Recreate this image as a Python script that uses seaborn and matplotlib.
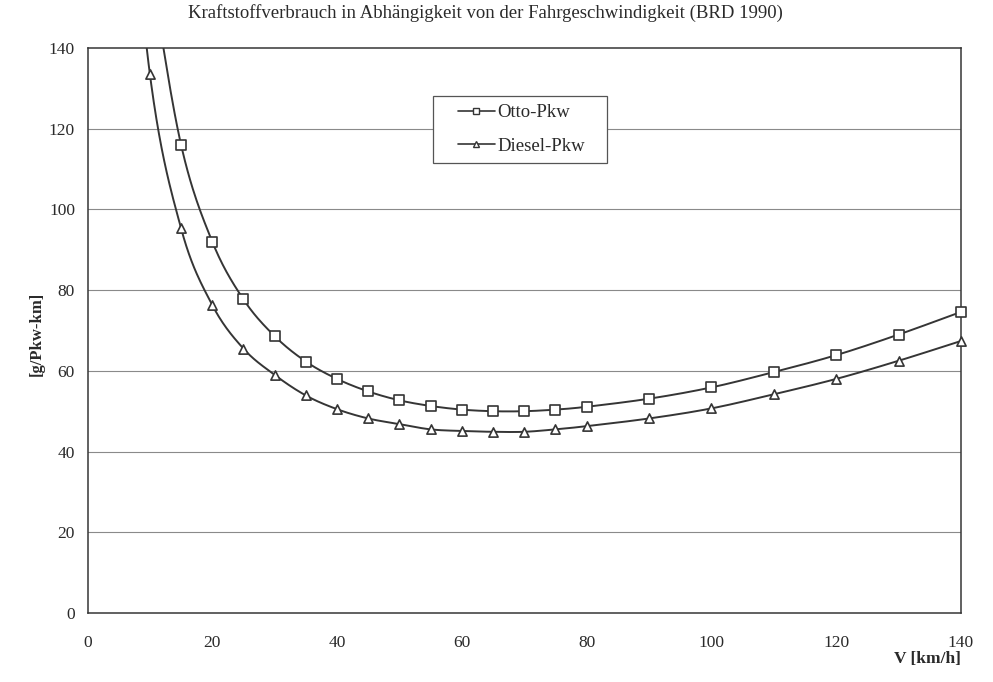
import numpy as np
import pandas as pd
import matplotlib
matplotlib.use("Agg")
import matplotlib.pyplot as plt
from matplotlib.lines import Line2D
from matplotlib.patches import Rectangle
import seaborn as sns

# ---- data ----
title = "Kraftstoffverbrauch in Abhängigkeit von der Fahrgeschwindigkeit (BRD 1990)"
x_label = "V [km/h]"
y_label = "[g/Pkw-km]"

otto_v = [10, 15, 20, 25, 30, 35, 40, 45, 50, 55, 60, 65, 70, 75, 80, 90, 100, 110, 120, 130, 140]
otto_g = [160, 116, 92, 77.7, 68.6, 62.3, 58.0, 54.9, 52.7, 51.3, 50.4, 50.0, 50.0, 50.4, 51.1,
          53.1, 55.9, 59.7, 63.9, 69.0, 74.6]

diesel_v = [5, 10, 15, 20, 25, 30, 35, 40, 45, 50, 55, 60, 65, 70, 75, 80, 90, 100, 110, 120, 130, 140]
diesel_g = [214, 133.5, 95.3, 76.3, 65.5, 59.0, 53.9, 50.5, 48.2, 46.8, 45.5, 45.1, 44.9, 44.9,
            45.5, 46.3, 48.2, 50.7, 54.2, 58.0, 62.5, 67.4]

x_ticks = [0, 20, 40, 60, 80, 100, 120, 140]
y_ticks = [0, 20, 40, 60, 80, 100, 120, 140]
series_names = ["Otto-Pkw", "Diesel-Pkw"]

LINE = "#353535"
GRID = "#8a8a8a"
TEXT = "#2a2a2a"

W, H = 993, 682


def smooth(xs, ys, n=24):
    """Catmull-Rom rendering of a line through the given points (Excel-like smoothing)."""
    xs = np.asarray(xs, float)
    ys = np.asarray(ys, float)
    px = np.concatenate([[2 * xs[0] - xs[1]], xs, [2 * xs[-1] - xs[-2]]])
    py = np.concatenate([[2 * ys[0] - ys[1]], ys, [2 * ys[-1] - ys[-2]]])
    out_x, out_y = [], []
    t = np.linspace(0, 1, n, endpoint=False)
    for i in range(1, len(px) - 2):
        for arr, out in ((px, out_x), (py, out_y)):
            p0, p1, p2, p3 = arr[i - 1], arr[i], arr[i + 1], arr[i + 2]
            out.extend(0.5 * ((2 * p1) + (-p0 + p2) * t + (2 * p0 - 5 * p1 + 4 * p2 - p3) * t ** 2
                              + (-p0 + 3 * p1 - 3 * p2 + p3) * t ** 3))
    out_x.append(xs[-1])
    out_y.append(ys[-1])
    return np.array(out_x), np.array(out_y)


sns.set_style("white")
plt.rcParams["font.family"] = ["Liberation Serif", "DejaVu Serif"]

fig = plt.figure(figsize=(W / 100, H / 100), dpi=100)
ax = fig.add_axes([87.5 / W, 1 - 613 / H, (961 - 87.5) / W, (613 - 48) / H])

frames = []
for name, v, g in ((series_names[0], otto_v, otto_g), (series_names[1], diesel_v, diesel_g)):
    sx, sy = smooth(v, g)
    frames.append(pd.DataFrame({"v": sx, "g": sy, "serie": name}))
curve = pd.concat(frames, ignore_index=True)

sns.lineplot(data=curve, x="v", y="g", units="serie", estimator=None, sort=False,
             color=LINE, linewidth=1.4, ax=ax, legend=False)

pts_otto = pd.DataFrame({"v": otto_v, "g": otto_g})
pts_diesel = pd.DataFrame({"v": diesel_v, "g": diesel_g})
pts_otto = pts_otto[pts_otto.g <= 140]
pts_diesel = pts_diesel[pts_diesel.g <= 140]
sns.scatterplot(data=pts_otto, x="v", y="g", marker="s", s=46, facecolor="white",
                edgecolor=LINE, linewidth=1.2, ax=ax, zorder=5, clip_on=False, legend=False)
sns.scatterplot(data=pts_diesel, x="v", y="g", marker="^", s=44, facecolor="white",
                edgecolor=LINE, linewidth=1.2, ax=ax, zorder=5, clip_on=False, legend=False)

ax.set_xlim(0, 140)
ax.set_ylim(0, 140)
ax.set_xticks(x_ticks)
ax.set_yticks(y_ticks)
ax.set_xticklabels([str(t) for t in x_ticks], fontsize=12.5, color=TEXT)
ax.set_yticklabels([str(t) for t in y_ticks], fontsize=12.5, color=TEXT)
ax.tick_params(axis="x", direction="inout", length=8, width=0.9, color=LINE, pad=12)
ax.tick_params(axis="y", direction="out", length=5, width=0.9, color=LINE, pad=4)

for yv in y_ticks[1:-1]:
    ax.axhline(yv, color=GRID, linewidth=0.8, zorder=0)

for sp in ax.spines.values():
    sp.set_visible(True)
    sp.set_color(LINE)
    sp.set_linewidth(1.1)

ax.set_xlabel("")
ax.set_ylabel("")
fig.text(37 / W, 1 - 334 / H, y_label, rotation=90, ha="center", va="center",
         fontsize=12, fontweight="bold", color=TEXT)
fig.text(961 / W, 1 - 659 / H, x_label, ha="right", va="center",
         fontsize=12.5, fontweight="bold", color=TEXT)
fig.text(485 / W, 1 - 13 / H, title, ha="center", va="center", fontsize=13.5, color=TEXT)

# legend box
box = Rectangle((433 / W, 1 - 163 / H), (607 - 433) / W, (163 - 96) / H,
                transform=fig.transFigure, facecolor="white", edgecolor="#555555",
                linewidth=0.9, zorder=6, clip_on=False)
ax.add_patch(box)

handles = [Line2D([], [], color=LINE, linewidth=1.2, marker="s", markersize=5,
                  markerfacecolor="white", markeredgecolor=LINE),
           Line2D([], [], color=LINE, linewidth=1.2, marker="^", markersize=5,
                  markerfacecolor="white", markeredgecolor=LINE)]
leg = ax.legend(handles, series_names, loc="upper left", bbox_to_anchor=(458 / W, 1 - 104 / H),
                bbox_transform=fig.transFigure, fontsize=13.5, frameon=False,
                handlelength=1.95, handletextpad=0.15, labelspacing=0.88, borderpad=0,
                borderaxespad=0)
leg.set_zorder(7)
for t in leg.get_texts():
    t.set_color(TEXT)

fig.savefig("out.png", dpi=100, facecolor="white")
